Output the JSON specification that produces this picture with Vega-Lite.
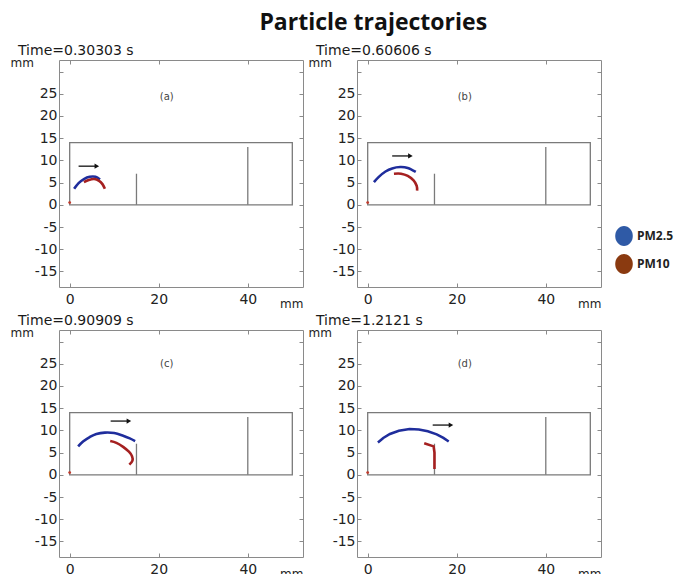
{
  "$schema": "https://vega.github.io/schema/vega-lite/v6.json",
  "background": "white",
  "padding": {"left": 9, "top": 11, "right": 5, "bottom": 0},
  "title": {"text": "Particle trajectories", "font": "Open Sans", "fontSize": 23, "fontWeight": "bold", "color": "#111111", "anchor": "middle", "offset": 9, "dx": 32},
  "datasets": {
    "traj": [
      {"panel": "a", "species": "PM2.5", "i": 0, "x": 1.0, "y": 3.6},
      {"panel": "a", "species": "PM2.5", "i": 1, "x": 2.0, "y": 4.9},
      {"panel": "a", "species": "PM2.5", "i": 2, "x": 3.2, "y": 5.8},
      {"panel": "a", "species": "PM2.5", "i": 3, "x": 4.5, "y": 6.3},
      {"panel": "a", "species": "PM2.5", "i": 4, "x": 5.8, "y": 6.3},
      {"panel": "a", "species": "PM2.5", "i": 5, "x": 6.8, "y": 5.7},
      {"panel": "a", "species": "PM10", "i": 0, "x": 3.2, "y": 5.1},
      {"panel": "a", "species": "PM10", "i": 1, "x": 4.3, "y": 5.6},
      {"panel": "a", "species": "PM10", "i": 2, "x": 5.5, "y": 5.8},
      {"panel": "a", "species": "PM10", "i": 3, "x": 6.6, "y": 5.4},
      {"panel": "a", "species": "PM10", "i": 4, "x": 7.4, "y": 4.6},
      {"panel": "a", "species": "PM10", "i": 5, "x": 7.9, "y": 3.6},
      {"panel": "b", "species": "PM2.5", "i": 0, "x": 1.4, "y": 5.1},
      {"panel": "b", "species": "PM2.5", "i": 1, "x": 2.5, "y": 6.3},
      {"panel": "b", "species": "PM2.5", "i": 2, "x": 4.0, "y": 7.5},
      {"panel": "b", "species": "PM2.5", "i": 3, "x": 5.5, "y": 8.2},
      {"panel": "b", "species": "PM2.5", "i": 4, "x": 7.3, "y": 8.5},
      {"panel": "b", "species": "PM2.5", "i": 5, "x": 9.0, "y": 8.3},
      {"panel": "b", "species": "PM2.5", "i": 6, "x": 10.8, "y": 7.4},
      {"panel": "b", "species": "PM10", "i": 0, "x": 5.9, "y": 7.0},
      {"panel": "b", "species": "PM10", "i": 1, "x": 7.5, "y": 7.0},
      {"panel": "b", "species": "PM10", "i": 2, "x": 9.0, "y": 6.5},
      {"panel": "b", "species": "PM10", "i": 3, "x": 10.3, "y": 5.5},
      {"panel": "b", "species": "PM10", "i": 4, "x": 11.0, "y": 4.3},
      {"panel": "b", "species": "PM10", "i": 5, "x": 11.1, "y": 3.2},
      {"panel": "c", "species": "PM2.5", "i": 0, "x": 1.9, "y": 6.4},
      {"panel": "c", "species": "PM2.5", "i": 1, "x": 3.0, "y": 7.5},
      {"panel": "c", "species": "PM2.5", "i": 2, "x": 4.5, "y": 8.5},
      {"panel": "c", "species": "PM2.5", "i": 3, "x": 6.0, "y": 9.2},
      {"panel": "c", "species": "PM2.5", "i": 4, "x": 7.9, "y": 9.5},
      {"panel": "c", "species": "PM2.5", "i": 5, "x": 10.0, "y": 9.4},
      {"panel": "c", "species": "PM2.5", "i": 6, "x": 12.0, "y": 8.8},
      {"panel": "c", "species": "PM2.5", "i": 7, "x": 13.5, "y": 8.2},
      {"panel": "c", "species": "PM2.5", "i": 8, "x": 14.7, "y": 7.6},
      {"panel": "c", "species": "PM10", "i": 0, "x": 9.1, "y": 7.6},
      {"panel": "c", "species": "PM10", "i": 1, "x": 10.5, "y": 7.2},
      {"panel": "c", "species": "PM10", "i": 2, "x": 12.0, "y": 6.3},
      {"panel": "c", "species": "PM10", "i": 3, "x": 13.3, "y": 5.2},
      {"panel": "c", "species": "PM10", "i": 4, "x": 14.0, "y": 4.2},
      {"panel": "c", "species": "PM10", "i": 5, "x": 14.1, "y": 3.2},
      {"panel": "c", "species": "PM10", "i": 6, "x": 13.4, "y": 2.3},
      {"panel": "d", "species": "PM2.5", "i": 0, "x": 2.3, "y": 7.3},
      {"panel": "d", "species": "PM2.5", "i": 1, "x": 3.5, "y": 8.3},
      {"panel": "d", "species": "PM2.5", "i": 2, "x": 5.0, "y": 9.2},
      {"panel": "d", "species": "PM2.5", "i": 3, "x": 7.0, "y": 9.9},
      {"panel": "d", "species": "PM2.5", "i": 4, "x": 9.4, "y": 10.3},
      {"panel": "d", "species": "PM2.5", "i": 5, "x": 11.5, "y": 10.2},
      {"panel": "d", "species": "PM2.5", "i": 6, "x": 13.5, "y": 9.8},
      {"panel": "d", "species": "PM2.5", "i": 7, "x": 15.5, "y": 9.1},
      {"panel": "d", "species": "PM2.5", "i": 8, "x": 17.0, "y": 8.3},
      {"panel": "d", "species": "PM2.5", "i": 9, "x": 18.2, "y": 7.5},
      {"panel": "d", "species": "PM10", "i": 0, "x": 12.7, "y": 7.1},
      {"panel": "d", "species": "PM10", "i": 1, "x": 14.8, "y": 6.4},
      {"panel": "d", "species": "PM10", "i": 2, "x": 15.0, "y": 5.0},
      {"panel": "d", "species": "PM10", "i": 3, "x": 15.0, "y": 3.5},
      {"panel": "d", "species": "PM10", "i": 4, "x": 15.0, "y": 2.0},
      {"panel": "d", "species": "PM10", "i": 5, "x": 15.0, "y": 1.3}
    ],
    "channel": [{"x0": 0, "x1": 50, "y0": 0, "y1": 14}],
    "baffles": [{"x": 15, "y0": 0, "y1": 7}, {"x": 40, "y0": 0, "y1": 13}],
    "origin": [{"x": 0, "y": 0.5}],
    "marks": [
      {"panel": "a", "label": "(a)", "lx": 21.8, "ly": 24.3, "ax1": 2.0, "ax2": 6.1, "ay": 8.7},
      {"panel": "b", "label": "(b)", "lx": 21.8, "ly": 24.3, "ax1": 5.5, "ax2": 9.6, "ay": 11.0},
      {"panel": "c", "label": "(c)", "lx": 21.8, "ly": 24.9, "ax1": 9.2, "ax2": 13.3, "ay": 12.1},
      {"panel": "d", "label": "(d)", "lx": 21.8, "ly": 24.9, "ax1": 14.6, "ax2": 18.7, "ay": 11.2}
    ]
  },
  "columns": 2,
  "spacing": {"row": 3, "column": 3},
  "concat": [
    {
      "width": 244, "height": 227,
      "title": {"text": "Time=0.30303 s", "anchor": "start", "frame": "bounds", "font": "DejaVu Sans", "fontSize": 14, "fontWeight": "normal", "color": "#1a1a1a", "offset": -2, "dx": 8},
      "layer": [
        {"data": {"name": "channel"}, "mark": {"type": "rect", "fill": "transparent", "stroke": "#7a7a7a", "strokeWidth": 1.3},
          "encoding": {
            "x": {"field": "x0", "type": "quantitative", "scale": {"domain": [-2.4, 52.4], "nice": false, "zero": false}, "axis": {"orient": "bottom", "values": [0, 20, 40], "title": "mm", "titleX": 244, "titleY": 20, "titleAlign": "right", "titleBaseline": "alphabetic", "titleFont": "DejaVu Sans", "titleFontSize": 12, "titleFontWeight": "normal", "titleColor": "#222222"}},
            "x2": {"field": "x1"},
            "y": {"field": "y0", "type": "quantitative", "scale": {"domain": [-18.5, 32.6], "nice": false, "zero": false}, "axis": {"orient": "left", "values": [-15, -10, -5, 0, 5, 10, 15, 20, 25, 30], "labelExpr": "datum.value == 30 ? '' : '' + datum.value", "title": "mm", "titleAngle": 0, "titleX": -49, "titleY": 6, "titleAlign": "left", "titleBaseline": "alphabetic", "titleFont": "DejaVu Sans", "titleFontSize": 12, "titleFontWeight": "normal", "titleColor": "#222222"}},
            "y2": {"field": "y1"}
          }},
        {"data": {"name": "baffles"}, "mark": {"type": "rule", "stroke": "#7a7a7a", "strokeWidth": 1.3},
          "encoding": {
            "x": {"field": "x", "type": "quantitative", "axis": {"orient": "top", "values": [0, 20, 40], "labels": false, "title": null}},
            "y": {"field": "y0", "type": "quantitative", "axis": {"orient": "right", "values": [-15, -10, -5, 0, 5, 10, 15, 20, 25, 30], "labels": false, "title": null}},
            "y2": {"field": "y1"}
          }},
        {"data": {"name": "traj"}, "transform": [{"filter": "datum.panel == 'a'"}], "mark": {"type": "line", "strokeWidth": 2.6, "interpolate": "cardinal"},
          "encoding": {
            "x": {"field": "x", "type": "quantitative", "axis": null},
            "y": {"field": "y", "type": "quantitative", "axis": null},
            "color": {"field": "species", "type": "nominal", "scale": {"domain": ["PM2.5", "PM10"], "range": ["#1f2d9c", "#a52020"]},
              "legend": {"title": null, "orient": "none", "legendX": 555, "legendY": 166, "symbolType": "M0,-1A0.88,1,0,1,1,0,1A0.88,1,0,1,1,0,-1Z", "symbolSize": 400, "symbolStrokeWidth": 0, "labelFont": "Open Sans", "labelFontWeight": "bold", "labelFontSize": 12, "labelColor": "#222222", "rowPadding": 8, "labelOffset": 3,
                "encode": {"symbols": {"update": {"fill": {"signal": "datum.value === 'PM2.5' ? '#2f5aa6' : '#8a3a10'"}, "stroke": {"value": "transparent"}, "strokeWidth": {"value": 0}, "opacity": {"value": 1}}}}}},
            "order": {"field": "i"}
          }},
        {"data": {"name": "origin"}, "mark": {"type": "point", "filled": true, "color": "#c0392b", "size": 8, "opacity": 1},
          "encoding": {"x": {"field": "x", "type": "quantitative", "axis": null}, "y": {"field": "y", "type": "quantitative", "axis": null}}},
        {"data": {"name": "marks"}, "transform": [{"filter": "datum.panel == 'a'"}], "mark": {"type": "rule", "color": "#111111", "strokeWidth": 1.3},
          "encoding": {"x": {"field": "ax1", "type": "quantitative", "axis": null}, "x2": {"field": "ax2"}, "y": {"field": "ay", "type": "quantitative", "axis": null}}},
        {"data": {"name": "marks"}, "transform": [{"filter": "datum.panel == 'a'"}], "mark": {"type": "point", "shape": "triangle-right", "filled": true, "color": "#111111", "size": 28, "opacity": 1},
          "encoding": {"x": {"field": "ax2", "type": "quantitative", "axis": null}, "y": {"field": "ay", "type": "quantitative", "axis": null}}},
        {"data": {"name": "marks"}, "transform": [{"filter": "datum.panel == 'a'"}], "mark": {"type": "text", "font": "DejaVu Sans", "fontSize": 10, "color": "#444444"},
          "encoding": {"x": {"field": "lx", "type": "quantitative", "axis": null}, "y": {"field": "ly", "type": "quantitative", "axis": null}, "text": {"field": "label"}}}
      ],
      "resolve": {"axis": {"x": "independent", "y": "independent"}}
    },
    {
      "width": 244, "height": 227,
      "title": {"text": "Time=0.60606 s", "anchor": "start", "frame": "bounds", "font": "DejaVu Sans", "fontSize": 14, "fontWeight": "normal", "color": "#1a1a1a", "offset": -2, "dx": 8},
      "layer": [
        {"data": {"name": "channel"}, "mark": {"type": "rect", "fill": "transparent", "stroke": "#7a7a7a", "strokeWidth": 1.3},
          "encoding": {
            "x": {"field": "x0", "type": "quantitative", "scale": {"domain": [-2.4, 52.4], "nice": false, "zero": false}, "axis": {"orient": "bottom", "values": [0, 20, 40], "title": "mm", "titleX": 244, "titleY": 20, "titleAlign": "right", "titleBaseline": "alphabetic", "titleFont": "DejaVu Sans", "titleFontSize": 12, "titleFontWeight": "normal", "titleColor": "#222222"}},
            "x2": {"field": "x1"},
            "y": {"field": "y0", "type": "quantitative", "scale": {"domain": [-18.5, 32.6], "nice": false, "zero": false}, "axis": {"orient": "left", "values": [-15, -10, -5, 0, 5, 10, 15, 20, 25, 30], "labelExpr": "datum.value == 30 ? '' : '' + datum.value", "title": "mm", "titleAngle": 0, "titleX": -49, "titleY": 6, "titleAlign": "left", "titleBaseline": "alphabetic", "titleFont": "DejaVu Sans", "titleFontSize": 12, "titleFontWeight": "normal", "titleColor": "#222222"}},
            "y2": {"field": "y1"}
          }},
        {"data": {"name": "baffles"}, "mark": {"type": "rule", "stroke": "#7a7a7a", "strokeWidth": 1.3},
          "encoding": {
            "x": {"field": "x", "type": "quantitative", "axis": {"orient": "top", "values": [0, 20, 40], "labels": false, "title": null}},
            "y": {"field": "y0", "type": "quantitative", "axis": {"orient": "right", "values": [-15, -10, -5, 0, 5, 10, 15, 20, 25, 30], "labels": false, "title": null}},
            "y2": {"field": "y1"}
          }},
        {"data": {"name": "traj"}, "transform": [{"filter": "datum.panel == 'b'"}], "mark": {"type": "line", "strokeWidth": 2.6, "interpolate": "cardinal"},
          "encoding": {
            "x": {"field": "x", "type": "quantitative", "axis": null},
            "y": {"field": "y", "type": "quantitative", "axis": null},
            "color": {"field": "species", "type": "nominal", "scale": {"domain": ["PM2.5", "PM10"], "range": ["#1f2d9c", "#a52020"]},
              "legend": {"title": null, "orient": "none", "legendX": 555, "legendY": 166, "symbolType": "M0,-1A0.88,1,0,1,1,0,1A0.88,1,0,1,1,0,-1Z", "symbolSize": 400, "symbolStrokeWidth": 0, "labelFont": "Open Sans", "labelFontWeight": "bold", "labelFontSize": 12, "labelColor": "#222222", "rowPadding": 8, "labelOffset": 3,
                "encode": {"symbols": {"update": {"fill": {"signal": "datum.value === 'PM2.5' ? '#2f5aa6' : '#8a3a10'"}, "stroke": {"value": "transparent"}, "strokeWidth": {"value": 0}, "opacity": {"value": 1}}}}}},
            "order": {"field": "i"}
          }},
        {"data": {"name": "origin"}, "mark": {"type": "point", "filled": true, "color": "#c0392b", "size": 8, "opacity": 1},
          "encoding": {"x": {"field": "x", "type": "quantitative", "axis": null}, "y": {"field": "y", "type": "quantitative", "axis": null}}},
        {"data": {"name": "marks"}, "transform": [{"filter": "datum.panel == 'b'"}], "mark": {"type": "rule", "color": "#111111", "strokeWidth": 1.3},
          "encoding": {"x": {"field": "ax1", "type": "quantitative", "axis": null}, "x2": {"field": "ax2"}, "y": {"field": "ay", "type": "quantitative", "axis": null}}},
        {"data": {"name": "marks"}, "transform": [{"filter": "datum.panel == 'b'"}], "mark": {"type": "point", "shape": "triangle-right", "filled": true, "color": "#111111", "size": 28, "opacity": 1},
          "encoding": {"x": {"field": "ax2", "type": "quantitative", "axis": null}, "y": {"field": "ay", "type": "quantitative", "axis": null}}},
        {"data": {"name": "marks"}, "transform": [{"filter": "datum.panel == 'b'"}], "mark": {"type": "text", "font": "DejaVu Sans", "fontSize": 10, "color": "#444444"},
          "encoding": {"x": {"field": "lx", "type": "quantitative", "axis": null}, "y": {"field": "ly", "type": "quantitative", "axis": null}, "text": {"field": "label"}}}
      ],
      "resolve": {"axis": {"x": "independent", "y": "independent"}}
    },
    {
      "width": 244, "height": 227,
      "title": {"text": "Time=0.90909 s", "anchor": "start", "frame": "bounds", "font": "DejaVu Sans", "fontSize": 14, "fontWeight": "normal", "color": "#1a1a1a", "offset": -2, "dx": 8},
      "layer": [
        {"data": {"name": "channel"}, "mark": {"type": "rect", "fill": "transparent", "stroke": "#7a7a7a", "strokeWidth": 1.3},
          "encoding": {
            "x": {"field": "x0", "type": "quantitative", "scale": {"domain": [-2.4, 52.4], "nice": false, "zero": false}, "axis": {"orient": "bottom", "values": [0, 20, 40], "title": "mm", "titleX": 244, "titleY": 20, "titleAlign": "right", "titleBaseline": "alphabetic", "titleFont": "DejaVu Sans", "titleFontSize": 12, "titleFontWeight": "normal", "titleColor": "#222222"}},
            "x2": {"field": "x1"},
            "y": {"field": "y0", "type": "quantitative", "scale": {"domain": [-18.5, 32.6], "nice": false, "zero": false}, "axis": {"orient": "left", "values": [-15, -10, -5, 0, 5, 10, 15, 20, 25, 30], "labelExpr": "datum.value == 30 ? '' : '' + datum.value", "title": "mm", "titleAngle": 0, "titleX": -49, "titleY": 6, "titleAlign": "left", "titleBaseline": "alphabetic", "titleFont": "DejaVu Sans", "titleFontSize": 12, "titleFontWeight": "normal", "titleColor": "#222222"}},
            "y2": {"field": "y1"}
          }},
        {"data": {"name": "baffles"}, "mark": {"type": "rule", "stroke": "#7a7a7a", "strokeWidth": 1.3},
          "encoding": {
            "x": {"field": "x", "type": "quantitative", "axis": {"orient": "top", "values": [0, 20, 40], "labels": false, "title": null}},
            "y": {"field": "y0", "type": "quantitative", "axis": {"orient": "right", "values": [-15, -10, -5, 0, 5, 10, 15, 20, 25, 30], "labels": false, "title": null}},
            "y2": {"field": "y1"}
          }},
        {"data": {"name": "traj"}, "transform": [{"filter": "datum.panel == 'c'"}], "mark": {"type": "line", "strokeWidth": 2.6, "interpolate": "cardinal"},
          "encoding": {
            "x": {"field": "x", "type": "quantitative", "axis": null},
            "y": {"field": "y", "type": "quantitative", "axis": null},
            "color": {"field": "species", "type": "nominal", "scale": {"domain": ["PM2.5", "PM10"], "range": ["#1f2d9c", "#a52020"]},
              "legend": {"title": null, "orient": "none", "legendX": 555, "legendY": 166, "symbolType": "M0,-1A0.88,1,0,1,1,0,1A0.88,1,0,1,1,0,-1Z", "symbolSize": 400, "symbolStrokeWidth": 0, "labelFont": "Open Sans", "labelFontWeight": "bold", "labelFontSize": 12, "labelColor": "#222222", "rowPadding": 8, "labelOffset": 3,
                "encode": {"symbols": {"update": {"fill": {"signal": "datum.value === 'PM2.5' ? '#2f5aa6' : '#8a3a10'"}, "stroke": {"value": "transparent"}, "strokeWidth": {"value": 0}, "opacity": {"value": 1}}}}}},
            "order": {"field": "i"}
          }},
        {"data": {"name": "origin"}, "mark": {"type": "point", "filled": true, "color": "#c0392b", "size": 8, "opacity": 1},
          "encoding": {"x": {"field": "x", "type": "quantitative", "axis": null}, "y": {"field": "y", "type": "quantitative", "axis": null}}},
        {"data": {"name": "marks"}, "transform": [{"filter": "datum.panel == 'c'"}], "mark": {"type": "rule", "color": "#111111", "strokeWidth": 1.3},
          "encoding": {"x": {"field": "ax1", "type": "quantitative", "axis": null}, "x2": {"field": "ax2"}, "y": {"field": "ay", "type": "quantitative", "axis": null}}},
        {"data": {"name": "marks"}, "transform": [{"filter": "datum.panel == 'c'"}], "mark": {"type": "point", "shape": "triangle-right", "filled": true, "color": "#111111", "size": 28, "opacity": 1},
          "encoding": {"x": {"field": "ax2", "type": "quantitative", "axis": null}, "y": {"field": "ay", "type": "quantitative", "axis": null}}},
        {"data": {"name": "marks"}, "transform": [{"filter": "datum.panel == 'c'"}], "mark": {"type": "text", "font": "DejaVu Sans", "fontSize": 10, "color": "#444444"},
          "encoding": {"x": {"field": "lx", "type": "quantitative", "axis": null}, "y": {"field": "ly", "type": "quantitative", "axis": null}, "text": {"field": "label"}}}
      ],
      "resolve": {"axis": {"x": "independent", "y": "independent"}}
    },
    {
      "width": 244, "height": 227,
      "title": {"text": "Time=1.2121 s", "anchor": "start", "frame": "bounds", "font": "DejaVu Sans", "fontSize": 14, "fontWeight": "normal", "color": "#1a1a1a", "offset": -2, "dx": 8},
      "layer": [
        {"data": {"name": "channel"}, "mark": {"type": "rect", "fill": "transparent", "stroke": "#7a7a7a", "strokeWidth": 1.3},
          "encoding": {
            "x": {"field": "x0", "type": "quantitative", "scale": {"domain": [-2.4, 52.4], "nice": false, "zero": false}, "axis": {"orient": "bottom", "values": [0, 20, 40], "title": "mm", "titleX": 244, "titleY": 20, "titleAlign": "right", "titleBaseline": "alphabetic", "titleFont": "DejaVu Sans", "titleFontSize": 12, "titleFontWeight": "normal", "titleColor": "#222222"}},
            "x2": {"field": "x1"},
            "y": {"field": "y0", "type": "quantitative", "scale": {"domain": [-18.5, 32.6], "nice": false, "zero": false}, "axis": {"orient": "left", "values": [-15, -10, -5, 0, 5, 10, 15, 20, 25, 30], "labelExpr": "datum.value == 30 ? '' : '' + datum.value", "title": "mm", "titleAngle": 0, "titleX": -49, "titleY": 6, "titleAlign": "left", "titleBaseline": "alphabetic", "titleFont": "DejaVu Sans", "titleFontSize": 12, "titleFontWeight": "normal", "titleColor": "#222222"}},
            "y2": {"field": "y1"}
          }},
        {"data": {"name": "baffles"}, "mark": {"type": "rule", "stroke": "#7a7a7a", "strokeWidth": 1.3},
          "encoding": {
            "x": {"field": "x", "type": "quantitative", "axis": {"orient": "top", "values": [0, 20, 40], "labels": false, "title": null}},
            "y": {"field": "y0", "type": "quantitative", "axis": {"orient": "right", "values": [-15, -10, -5, 0, 5, 10, 15, 20, 25, 30], "labels": false, "title": null}},
            "y2": {"field": "y1"}
          }},
        {"data": {"name": "traj"}, "transform": [{"filter": "datum.panel == 'd'"}], "mark": {"type": "line", "strokeWidth": 2.6, "interpolate": "linear"},
          "encoding": {
            "x": {"field": "x", "type": "quantitative", "axis": null},
            "y": {"field": "y", "type": "quantitative", "axis": null},
            "color": {"field": "species", "type": "nominal", "scale": {"domain": ["PM2.5", "PM10"], "range": ["#1f2d9c", "#a52020"]},
              "legend": {"title": null, "orient": "none", "legendX": 555, "legendY": 166, "symbolType": "M0,-1A0.88,1,0,1,1,0,1A0.88,1,0,1,1,0,-1Z", "symbolSize": 400, "symbolStrokeWidth": 0, "labelFont": "Open Sans", "labelFontWeight": "bold", "labelFontSize": 12, "labelColor": "#222222", "rowPadding": 8, "labelOffset": 3,
                "encode": {"symbols": {"update": {"fill": {"signal": "datum.value === 'PM2.5' ? '#2f5aa6' : '#8a3a10'"}, "stroke": {"value": "transparent"}, "strokeWidth": {"value": 0}, "opacity": {"value": 1}}}}}},
            "order": {"field": "i"}
          }},
        {"data": {"name": "origin"}, "mark": {"type": "point", "filled": true, "color": "#c0392b", "size": 8, "opacity": 1},
          "encoding": {"x": {"field": "x", "type": "quantitative", "axis": null}, "y": {"field": "y", "type": "quantitative", "axis": null}}},
        {"data": {"name": "marks"}, "transform": [{"filter": "datum.panel == 'd'"}], "mark": {"type": "rule", "color": "#111111", "strokeWidth": 1.3},
          "encoding": {"x": {"field": "ax1", "type": "quantitative", "axis": null}, "x2": {"field": "ax2"}, "y": {"field": "ay", "type": "quantitative", "axis": null}}},
        {"data": {"name": "marks"}, "transform": [{"filter": "datum.panel == 'd'"}], "mark": {"type": "point", "shape": "triangle-right", "filled": true, "color": "#111111", "size": 28, "opacity": 1},
          "encoding": {"x": {"field": "ax2", "type": "quantitative", "axis": null}, "y": {"field": "ay", "type": "quantitative", "axis": null}}},
        {"data": {"name": "marks"}, "transform": [{"filter": "datum.panel == 'd'"}], "mark": {"type": "text", "font": "DejaVu Sans", "fontSize": 10, "color": "#444444"},
          "encoding": {"x": {"field": "lx", "type": "quantitative", "axis": null}, "y": {"field": "ly", "type": "quantitative", "axis": null}, "text": {"field": "label"}}}
      ],
      "resolve": {"axis": {"x": "independent", "y": "independent"}}
    }
  ],
  "config": {
    "view": {"stroke": "#8a8a8a", "strokeWidth": 1},
    "axis": {"grid": false, "domain": false, "tickColor": "#8a8a8a", "tickSize": -4, "tickWidth": 1, "labelFont": "DejaVu Sans", "labelFontSize": 14, "labelColor": "#222222"},
    "axisX": {"labelPadding": 9},
    "axisY": {"labelPadding": 6}
  }
}
